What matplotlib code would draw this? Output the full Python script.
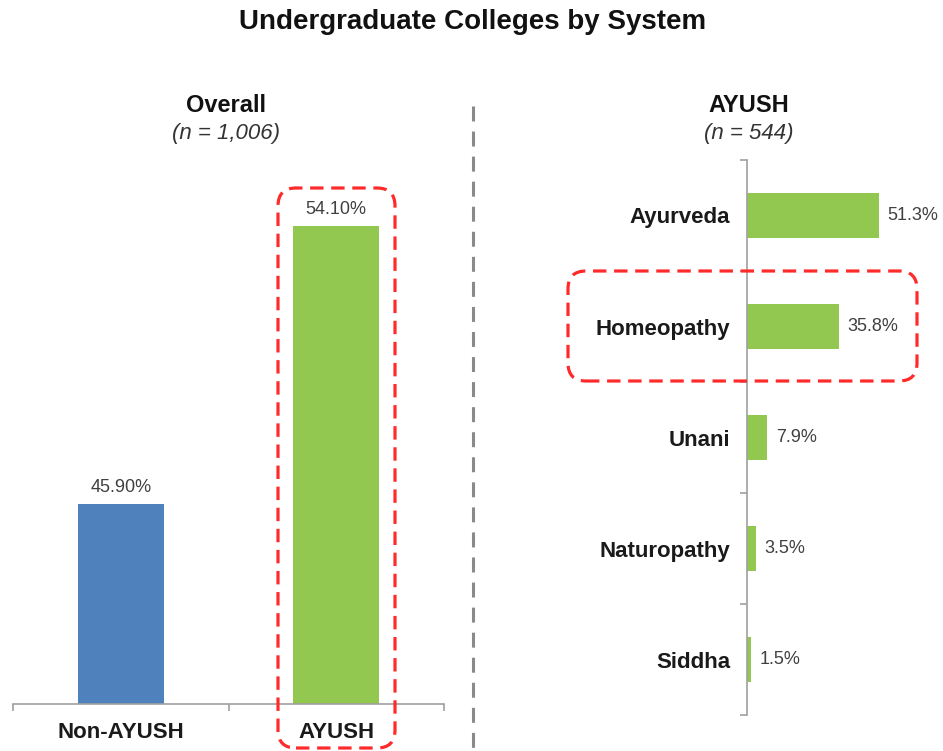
import matplotlib
matplotlib.use("Agg")
import matplotlib.pyplot as plt
from matplotlib.patches import FancyBboxPatch
from matplotlib.transforms import IdentityTransform
from matplotlib.lines import Line2D

plt.rcParams['font.family'] = ['Liberation Sans', 'DejaVu Sans']

# Data
overall_categories = ["Non-AYUSH", "AYUSH"]
overall_values = [45.90, 54.10]
overall_labels = ["45.90%", "54.10%"]
ayush_categories = ["Ayurveda", "Homeopathy", "Unani", "Naturopathy", "Siddha"]
ayush_values = [51.3, 35.8, 7.9, 3.5, 1.5]
ayush_labels = ["51.3%", "35.8%", "7.9%", "3.5%", "1.5%"]

W, H = 943, 751
BLUE = "#4F81BD"
GREEN = "#92C850"
AXIS = "#A0A0A0"
RED = "#FF2B2B"
VAL = "#404040"

fig = plt.figure(figsize=(W / 100, H / 100), dpi=100)
fig.patch.set_facecolor("white")

def fx(px):
    return px / W

def fy(py):
    return 1 - py / H

# Left axes: Overall
ax1 = fig.add_axes([fx(13), (H - 704) / H, 431 / W, 554 / H])
xs = list(range(len(overall_categories)))
bars = ax1.bar(xs, overall_values, width=0.4, color=[BLUE, GREEN], zorder=2)
ax1.set_xlim(-0.5, 1.5)
ax1.set_ylim(40, 56.34)
for s in ["left", "top", "right"]:
    ax1.spines[s].set_visible(False)
ax1.spines["bottom"].set_color(AXIS)
ax1.spines["bottom"].set_linewidth(1.2)
ax1.set_yticks([])
ax1.set_xticks(xs)
ax1.set_xticklabels(overall_categories, fontsize=16, fontweight="bold", color="#1a1a1a")
ax1.tick_params(axis="x", which="major", length=0, pad=13)
ax1.set_xticks([-0.5, 0.5, 1.5], minor=True)
ax1.tick_params(axis="x", which="minor", length=5, color=AXIS, width=1.2)
for b, lab in zip(bars, overall_labels):
    ax1.annotate(lab, (b.get_x() + b.get_width() / 2, b.get_height()),
                 xytext=(0, 12), textcoords="offset points", ha="center", va="center",
                 fontsize=13, color=VAL)

# Right axes: AYUSH
ax2 = fig.add_axes([fx(747), (H - 715) / H, 180 / W, 555 / H])
ys = list(range(len(ayush_categories)))
hb = ax2.barh(ys, ayush_values, height=0.41, color=GREEN, zorder=2)
ax2.set_ylim(4.5, -0.5)
ax2.set_xlim(0, 70)
for s in ["bottom", "top", "right"]:
    ax2.spines[s].set_visible(False)
ax2.spines["left"].set_color(AXIS)
ax2.spines["left"].set_linewidth(1.2)
ax2.set_xticks([])
ax2.set_yticks(ys)
ax2.set_yticklabels(ayush_categories, fontsize=16, fontweight="bold", color="#1a1a1a")
ax2.tick_params(axis="y", which="major", length=0, pad=12)
ax2.set_yticks([-0.5, 0.5, 1.5, 2.5, 3.5, 4.5], minor=True)
ax2.tick_params(axis="y", which="minor", length=5, color=AXIS, width=1.2)
for b, lab in zip(hb, ayush_labels):
    ax2.annotate(lab, (b.get_width(), b.get_y() + b.get_height() / 2),
                 xytext=(6, 0), textcoords="offset points", ha="left", va="center",
                 fontsize=13, color=VAL)

# Titles
fig.text(fx(473), fy(22), "Undergraduate Colleges by System", ha="center", va="center",
         fontsize=20, fontweight="bold", color="#111111")
fig.text(fx(226), fy(105), "Overall", ha="center", va="center", fontsize=17,
         fontweight="bold", color="#111111")
fig.text(fx(226), fy(133), "(n = 1,006)", ha="center", va="center", fontsize=16,
         style="italic", color="#333333")
fig.text(fx(749), fy(105), "AYUSH", ha="center", va="center", fontsize=17,
         fontweight="bold", color="#111111")
fig.text(fx(749), fy(133), "(n = 544)", ha="center", va="center", fontsize=16,
         style="italic", color="#333333")

# Divider
fig.add_artist(Line2D([fx(473), fx(473)], [fy(106), fy(751)], transform=fig.transFigure,
                      color="#8A8A8A", lw=2.2, linestyle=(0, (4.9, 3.3))))

# Highlight boxes (pixel coords)
def rbox(x0, y0, x1, y1):
    p = FancyBboxPatch((x0, H - y1), x1 - x0, y1 - y0,
                       boxstyle="round,pad=0,rounding_size=18",
                       transform=IdentityTransform(), fill=False, ec=RED,
                       lw=2.3, linestyle=(0, (4.2, 2.4)), zorder=5)
    fig.add_artist(p)

rbox(278, 188, 395, 748)
rbox(568, 271, 917, 381)

fig.savefig("out.png", dpi=100)
